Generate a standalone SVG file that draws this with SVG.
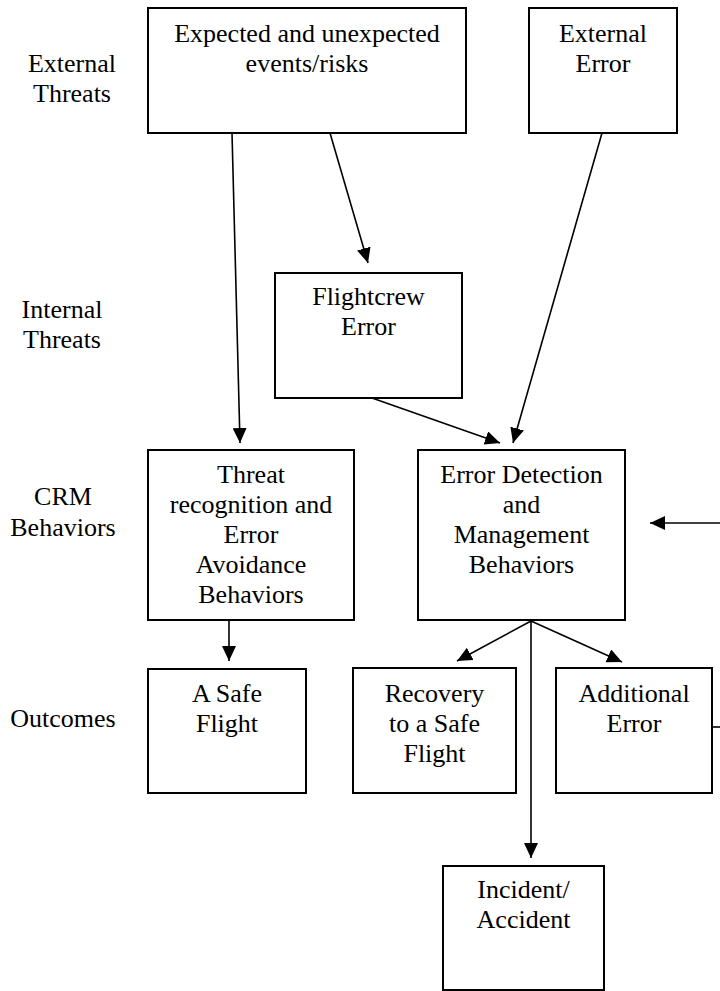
<svg xmlns="http://www.w3.org/2000/svg" width="720" height="991" viewBox="0 0 720 991">
<style>
.box{fill:#fff;stroke:#000;stroke-width:2}
.t{font-family:'Liberation Serif','Times New Roman','DejaVu Serif',serif;font-size:26px;fill:#000;text-anchor:middle}
.c{stroke:#000;stroke-width:1.6;fill:none}
</style>
<defs>
<marker id="ah" markerUnits="userSpaceOnUse" markerWidth="16" markerHeight="14" refX="15" refY="7" orient="auto">
<path d="M0,0 L15,7 L0,14 Z" fill="#000"/>
</marker>
</defs>
<rect width="720" height="991" fill="#fff"/>
<g id="labels">
<text class="t" x="72" y="72">External</text>
<text class="t" x="72" y="102">Threats</text>
<text class="t" x="62" y="318">Internal</text>
<text class="t" x="62" y="348">Threats</text>
<text class="t" x="63" y="505">CRM</text>
<text class="t" x="63" y="536">Behaviors</text>
<text class="t" x="63" y="727">Outcomes</text>
</g>
<g id="connectors">
<line class="c" x1="232" y1="133" x2="240" y2="443" marker-end="url(#ah)"/>
<line class="c" x1="330" y1="133" x2="368" y2="263" marker-end="url(#ah)"/>
<line class="c" x1="602" y1="133" x2="513" y2="443" marker-end="url(#ah)"/>
<line class="c" x1="372" y1="398" x2="500" y2="443" marker-end="url(#ah)"/>
<line class="c" x1="720" y1="523" x2="650" y2="523" marker-end="url(#ah)"/>
<line class="c" x1="229" y1="621" x2="229" y2="661" marker-end="url(#ah)"/>
<line class="c" x1="531" y1="621" x2="457" y2="661" marker-end="url(#ah)"/>
<line class="c" x1="531" y1="621" x2="622" y2="662" marker-end="url(#ah)"/>
<line class="c" x1="531" y1="621" x2="531" y2="858" marker-end="url(#ah)"/>
<line class="c" x1="712" y1="727" x2="720" y2="727"/>
</g>
<g id="expected">
<rect class="box" x="148" y="8" width="318" height="125"/>
<text class="t" x="307" y="42">Expected and unexpected</text>
<text class="t" x="307" y="72">events/risks</text>
</g>
<g id="external-error">
<rect class="box" x="529" y="8" width="148" height="125"/>
<text class="t" x="603" y="42">External</text>
<text class="t" x="603" y="72">Error</text>
</g>
<g id="flightcrew-error">
<rect class="box" x="275" y="273" width="187" height="125"/>
<text class="t" x="368.5" y="305">Flightcrew</text>
<text class="t" x="368.5" y="335">Error</text>
</g>
<g id="threat-recognition">
<rect class="box" x="148" y="450" width="206" height="170"/>
<text class="t" x="251" y="483">Threat</text>
<text class="t" x="251" y="513">recognition and</text>
<text class="t" x="251" y="543">Error</text>
<text class="t" x="251" y="573">Avoidance</text>
<text class="t" x="251" y="603">Behaviors</text>
</g>
<g id="error-detection">
<rect class="box" x="418" y="450" width="207" height="170"/>
<text class="t" x="521.5" y="483">Error Detection</text>
<text class="t" x="521.5" y="513">and</text>
<text class="t" x="521.5" y="543">Management</text>
<text class="t" x="521.5" y="573">Behaviors</text>
</g>
<g id="safe-flight">
<rect class="box" x="148" y="669" width="158" height="124"/>
<text class="t" x="227" y="702">A Safe</text>
<text class="t" x="227" y="732">Flight</text>
</g>
<g id="recovery">
<rect class="box" x="353" y="668" width="163" height="125"/>
<text class="t" x="434.5" y="702">Recovery</text>
<text class="t" x="434.5" y="732">to a Safe</text>
<text class="t" x="434.5" y="762">Flight</text>
</g>
<g id="additional-error">
<rect class="box" x="556" y="668" width="156" height="125"/>
<text class="t" x="634" y="702">Additional</text>
<text class="t" x="634" y="732">Error</text>
</g>
<g id="incident">
<rect class="box" x="443" y="866" width="161" height="124"/>
<text class="t" x="523.5" y="898">Incident/</text>
<text class="t" x="523.5" y="928">Accident</text>
</g>
</svg>
